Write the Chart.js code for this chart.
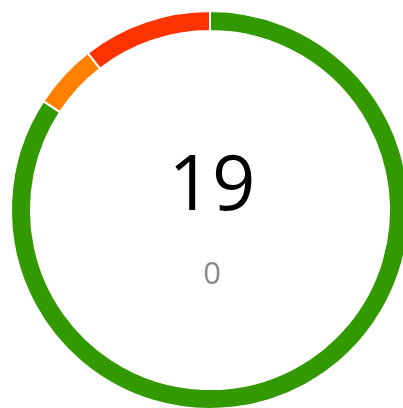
<!DOCTYPE html>
<html>
<head>
<meta charset="utf-8">
<script src="https://cdn.jsdelivr.net/npm/chart.js@4/dist/chart.umd.min.js"></script>
<style>
  html, body { margin: 0; padding: 0; background: #fff; overflow: hidden; }
  #wrap { position: relative; width: 420px; height: 420px; }
  .center { position: absolute; left: 0; width: 424px; text-align: center; font-family: "Open Sans", sans-serif; line-height: 1; }
  #total { top: 143px; font-size: 76px; color: #000; }
  #sub { top: 257px; font-size: 31px; color: #8a8a8a; }
</style>
</head>
<body>
<div id="wrap">
  <canvas id="gauge" width="420" height="420"></canvas>
  <div class="center" id="total"></div>
  <div class="center" id="sub"></div>
</div>
<script>
const labels = ["OK", "Warning", "Critical"];
const counts = [16, 1, 2];
const colors = ["#339900", "#ff8000", "#ff3300"];
const subValue = 0;

const total = counts.reduce((a, b) => a + b, 0);
document.getElementById("total").textContent = total;
document.getElementById("sub").textContent = subValue;

new Chart(document.getElementById("gauge"), {
  type: "doughnut",
  data: {
    labels: labels,
    datasets: [{
      data: counts,
      backgroundColor: colors,
      borderColor: "#fff",
      borderWidth: 2,
      hoverOffset: 0
    }]
  },
  options: {
    responsive: false,
    animation: false,
    radius: 199,
    cutout: "90%",
    plugins: {
      legend: { display: false },
      tooltip: { enabled: false }
    }
  }
});
</script>
</body>
</html>
